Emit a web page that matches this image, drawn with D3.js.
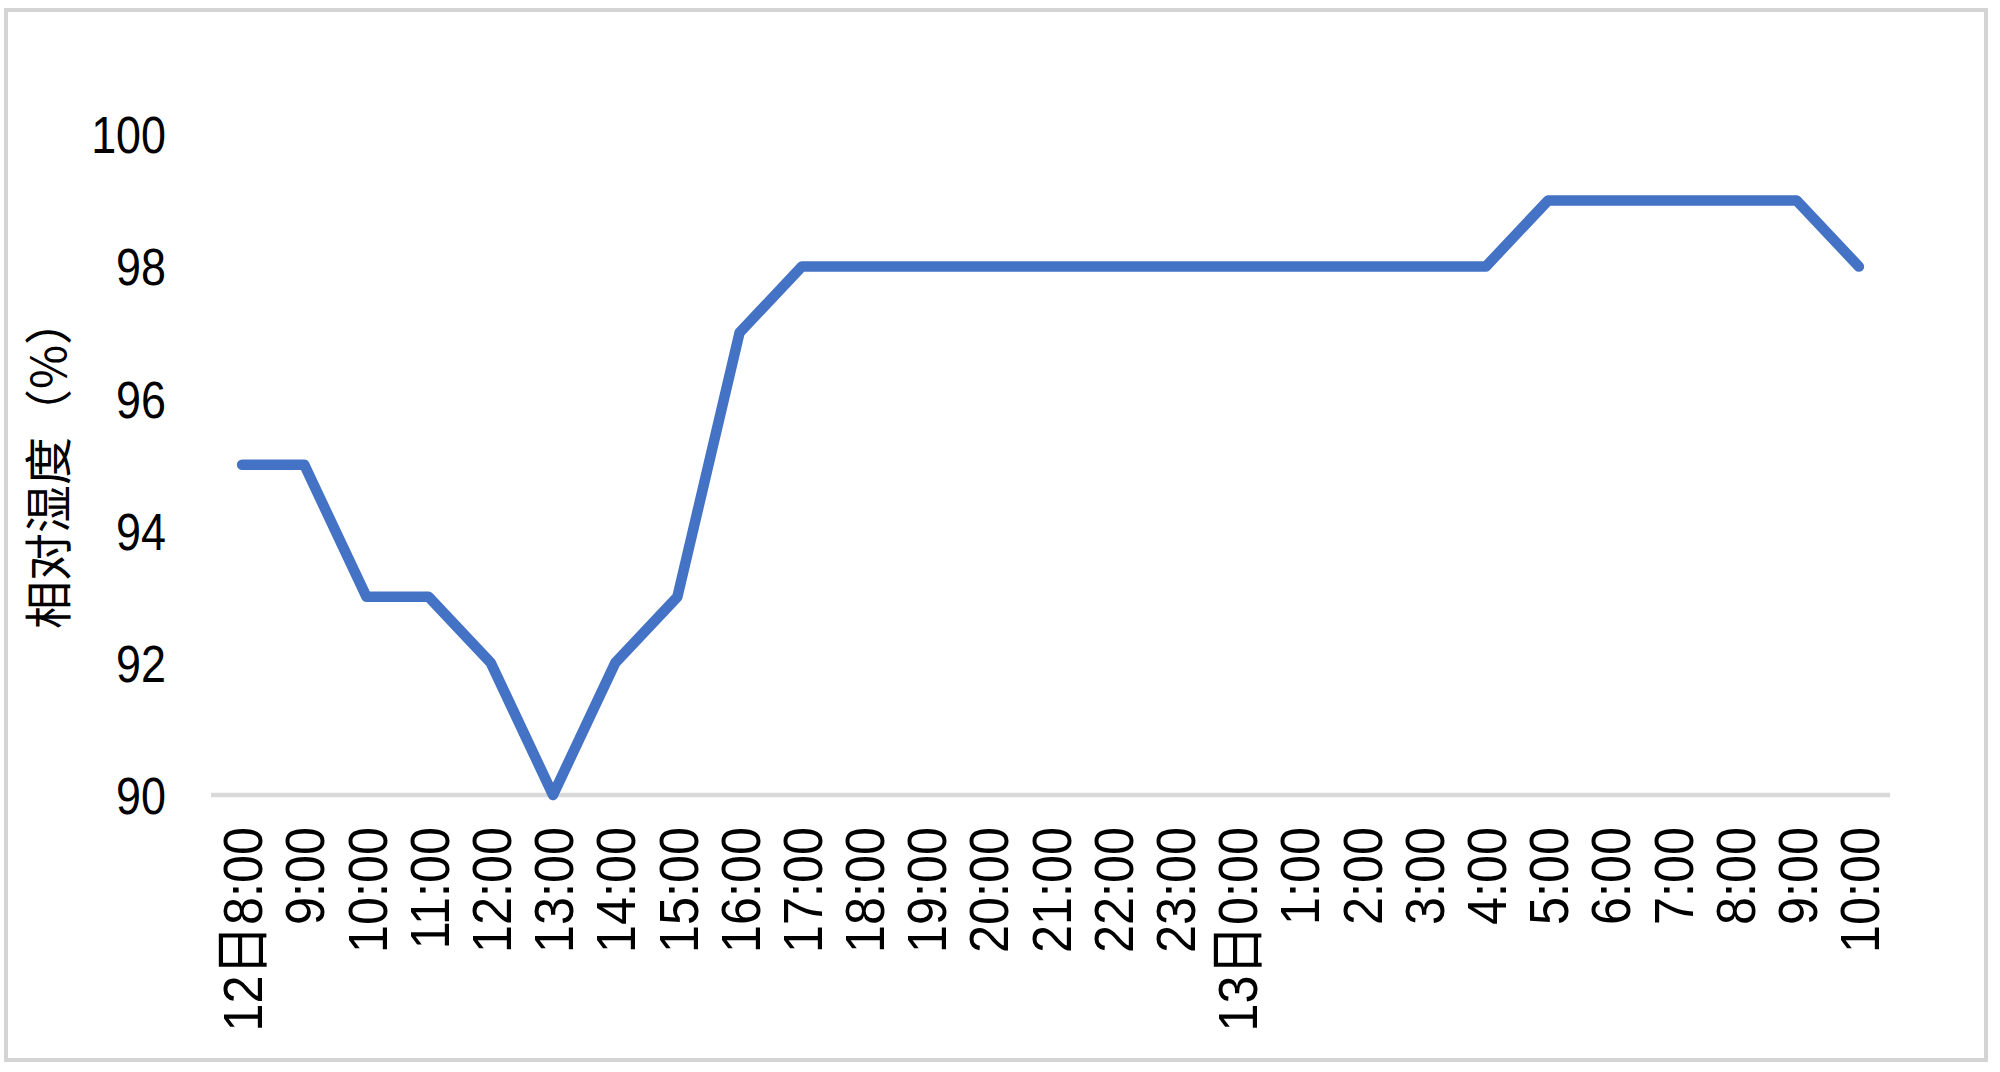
<!DOCTYPE html>
<html>
<head>
<meta charset="utf-8">
<script src="https://cdn.jsdelivr.net/npm/d3@7"></script>
<style>
  body { margin: 0; background: #fff; }
  .ytick text { font-family: "Liberation Sans", sans-serif; font-size: 51px; fill: #000; }
  .xtick text { font-family: "Liberation Sans", "Noto Sans CJK SC", sans-serif; font-size: 56px; fill: #000; }
  .ytitle { font-family: "Noto Sans CJK SC", sans-serif; font-size: 48px; fill: #000; }
</style>
</head>
<body>
<svg width="2000" height="1072"></svg>
<script>
// hourly readings, 12th 8:00 through 13th 10:00
var hours = ["12日8:00", "9:00", "10:00", "11:00", "12:00", "13:00", "14:00", "15:00", "16:00",
  "17:00", "18:00", "19:00", "20:00", "21:00", "22:00", "23:00", "13日0:00", "1:00", "2:00",
  "3:00", "4:00", "5:00", "6:00", "7:00", "8:00", "9:00", "10:00"];
var humidity = [95, 95, 93, 93, 92, 90, 92, 93, 97, 98, 98, 98, 98, 98, 98, 98, 98, 98, 98,
  98, 98, 99, 99, 99, 99, 99, 98];
var yTicks = [90, 92, 94, 96, 98, 100];

var svg = d3.select("svg");

// chart frame
svg.append("rect")
    .attr("x", 6).attr("y", 10)
    .attr("width", 1980).attr("height", 1050)
    .attr("fill", "#fff")
    .attr("stroke", "#d4d4d4")
    .attr("stroke-width", 4);

var idx = hours.map(function(d, i) { return i; });

var x = d3.scaleBand()
    .domain(idx)
    .range([211, 1890]);

var y = d3.scaleLinear()
    .domain([90, 100])
    .range([795, 134.5]);

// baseline
svg.append("line")
    .attr("x1", x.range()[0]).attr("x2", x.range()[1])
    .attr("y1", y(90)).attr("y2", y(90))
    .attr("stroke", "#d9d9d9")
    .attr("stroke-width", 4.5);

// y axis labels (squeezed a bit, the original font is narrow)
var yAxis = svg.append("g")
    .attr("class", "ytick")
    .attr("transform", "translate(166,0)")
    .call(d3.axisLeft(y).tickValues(yTicks).tickSize(0).tickPadding(0));
yAxis.select(".domain").remove();
yAxis.selectAll("text")
    .attr("x", 0)
    .attr("dy", "0.36em")
    .attr("transform", "scale(0.88,1)");

// x axis labels (rotated)
var sq = 0.9;
var xAxis = svg.append("g")
    .attr("class", "xtick")
    .attr("transform", "translate(0," + y(90) + ")")
    .call(d3.axisBottom(x).tickFormat(function(i) { return hours[i]; }).tickSize(0).tickPadding(0));
xAxis.select(".domain").remove();
xAxis.selectAll("text")
    .attr("transform", "rotate(-90) scale(" + sq + ",1)")
    .attr("text-anchor", "end")
    .attr("x", -32 / sq)
    .attr("y", 0)
    .attr("dy", "0.36em");

// y axis title
svg.append("text")
    .attr("class", "ytitle")
    .attr("transform", "translate(49,463) rotate(-90)")
    .attr("text-anchor", "middle")
    .attr("dy", "0.36em")
    .text("相对湿度（%）");

var line = d3.line()
    .x(function(d, i) { return x(i) + x.bandwidth() / 2; })
    .y(function(d) { return y(d); });

svg.append("path")
    .datum(humidity)
    .attr("d", line)
    .attr("fill", "none")
    .attr("stroke", "#4472c4")
    .attr("stroke-width", 10.5)
    .attr("stroke-linejoin", "round")
    .attr("stroke-linecap", "round");
</script>
</body>
</html>
